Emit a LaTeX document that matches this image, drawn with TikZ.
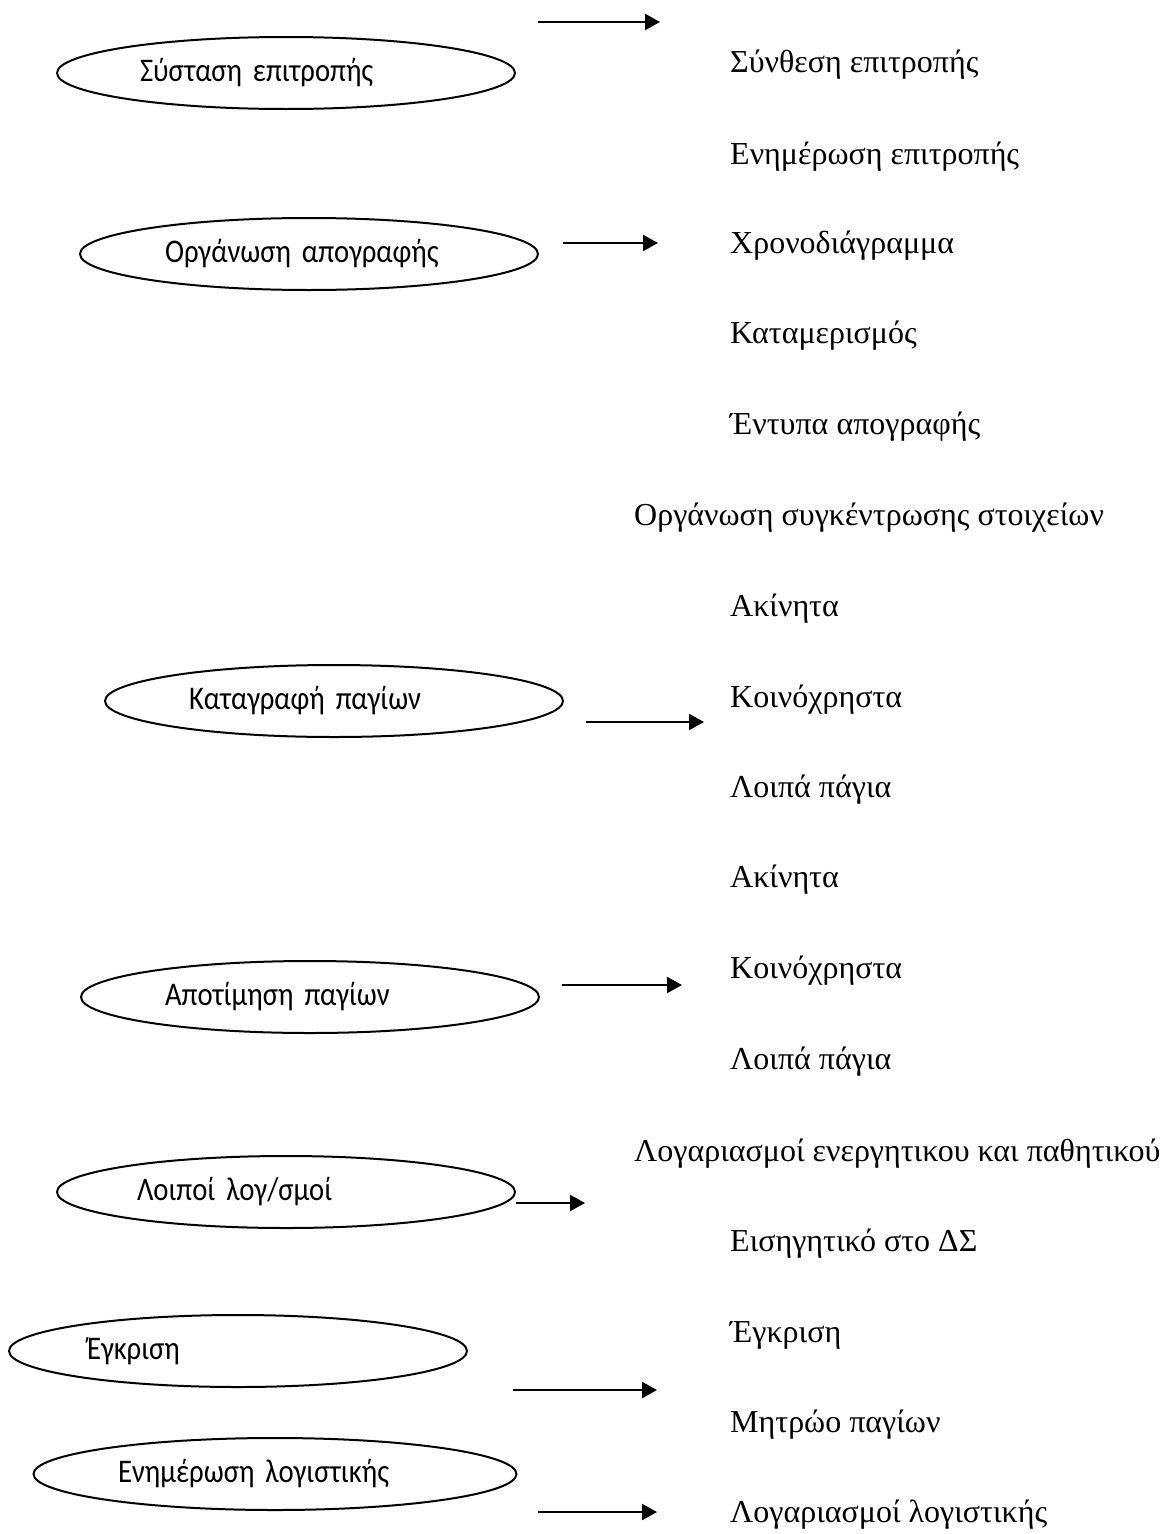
\documentclass[tikz,border=0pt]{standalone}
\usepackage{fontspec}
\setmainfont{Liberation Serif}
\newfontfamily\calibri[FakeStretch=0.87]{Carlito}
\usetikzlibrary{arrows.meta,shapes.geometric}
\tikzset{
  >={Triangle[length=15pt,width=16pt]},
  stage/.style={ellipse,draw,line width=2pt,minimum width=458pt,minimum height=72pt,inner sep=0pt,
    align=left,font=\calibri\fontsize{33}{38}\selectfont},
  item/.style={anchor=west,inner sep=0pt,font=\fontsize{32}{38}\selectfont},
  flow/.style={->,line width=2.3pt},
}

\begin{document}
\begin{tikzpicture}[x=1pt,y=-1pt]
  \useasboundingbox (0,0) rectangle (1167,1534);
  % stages on the left
  \node[stage,text width=292pt] (sys) at (286,73) {Σύσταση επιτροπής};
  \node[stage,text width=288pt] (org) at (309,254) {Οργάνωση απογραφής};
  \node[stage,text width=290pt] (kat) at (334,701) {Καταγραφή παγίων};
  \node[stage,text width=290pt] (apo) at (310,997) {Αποτίμηση παγίων};
  \node[stage,text width=298pt] (loi) at (286,1192) {Λοιποί λογ/σμοί};
  \node[stage,text width=302pt] (egk) at (238,1351) {Έγκριση};
  \node[stage,text width=314pt,minimum width=483pt] (enl) at (275,1474) {Ενημέρωση λογιστικής};
  % steps on the right
  \node[item] (synth) at (730,65) {Σύνθεση επιτροπής};
  \node[item] (enep) at (730,157) {Ενημέρωση επιτροπής};
  \node[item] (xron) at (730,246) {Χρονοδιάγραμμα};
  \node[item] (katam) at (730,336) {Καταμερισμός};
  \node[item] (entyp) at (730,427) {Έντυπα απογραφής};
  \node[item] (sygk) at (634,518) {Οργάνωση συγκέντρωσης στοιχείων};
  \node[item] (akin1) at (730,609) {Ακίνητα};
  \node[item] (koin1) at (730,700) {Κοινόχρηστα};
  \node[item] (lpag1) at (730,790) {Λοιπά πάγια};
  \node[item] (akin2) at (730,880) {Ακίνητα};
  \node[item] (koin2) at (730,971) {Κοινόχρηστα};
  \node[item] (lpag2) at (730,1062) {Λοιπά πάγια};
  \node[item] (logen) at (634,1154) {Λογαριασμοί ενεργητικου και παθητικού};
  \node[item] (eisig) at (730,1244) {Εισηγητικό στο ΔΣ};
  \node[item] (egkr) at (730,1335) {Έγκριση};
  \node[item] (mitr) at (730,1425) {Μητρώο παγίων};
  \node[item] (loglog) at (730,1515) {Λογαριασμοί λογιστικής};
  % arrow ends
  \coordinate (s1) at (538,22);   \coordinate (t1) at (660,22);
  \coordinate (s2) at (563,243);  \coordinate (t2) at (658,243);
  \coordinate (s3) at (586,722);  \coordinate (t3) at (704,722);
  \coordinate (s4) at (562,985);  \coordinate (t4) at (682,985);
  \coordinate (s5) at (loi.east |- 0,1203); \coordinate (t5) at (585,1203);
  \coordinate (s6) at (513,1390); \coordinate (t6) at (657,1390);
  \coordinate (s7) at (538,1512); \coordinate (t7) at (657,1512);
  \foreach \k in {1,...,7}
    \draw[flow] (s\k) -- (t\k);
\end{tikzpicture}
\end{document}
